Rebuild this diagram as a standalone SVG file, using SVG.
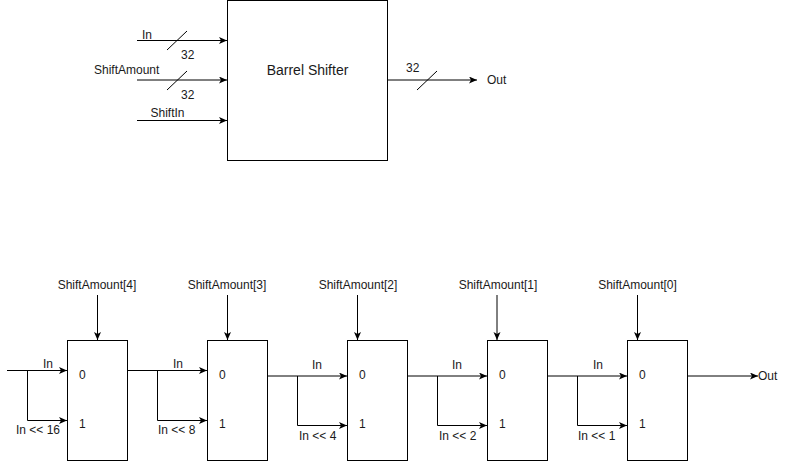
<svg xmlns="http://www.w3.org/2000/svg" width="798" height="461" viewBox="0 0 798 461">
  <style>
    .box { fill: #ffffff; stroke: #000000; stroke-width: 1; }
    .wire { fill: none; stroke: #000000; stroke-width: 1; }
    .arrow { marker-end: url(#head); }
    text { font-family: "Liberation Sans", Arial, Helvetica, sans-serif; font-size: 12px; fill: #1a1a1a; }
    .title { font-size: 14px; text-anchor: middle; }
    .mid { text-anchor: middle; }
  </style>
  <defs>
    <marker id="head" markerUnits="userSpaceOnUse" markerWidth="10" markerHeight="8" refX="8" refY="3.5" orient="auto">
      <path d="M0,0 L8,3.5 L0,7 L2,3.5 z" fill="#000000"/>
    </marker>
  </defs>

  <rect width="798" height="461" fill="#ffffff"/>

  <!-- top-level block -->
  <g id="barrel-shifter">
    <rect class="box" x="227.5" y="0.5" width="160" height="160"/>
    <text class="title" x="307.5" y="75">Barrel Shifter</text>
  </g>

  <!-- mux stages -->
  <g id="mux4">
    <rect class="box" x="67.5" y="340.5" width="60" height="120"/>
    <text x="79" y="379">0</text>
    <text x="79" y="428">1</text>
  </g>
  <g id="mux3">
    <rect class="box" x="207.5" y="340.5" width="60" height="120"/>
    <text x="219" y="379">0</text>
    <text x="219" y="428">1</text>
  </g>
  <g id="mux2">
    <rect class="box" x="347.5" y="340.5" width="60" height="120"/>
    <text x="359" y="379">0</text>
    <text x="359" y="428">1</text>
  </g>
  <g id="mux1">
    <rect class="box" x="487.5" y="340.5" width="60" height="120"/>
    <text x="499" y="379">0</text>
    <text x="499" y="428">1</text>
  </g>
  <g id="mux0">
    <rect class="box" x="627.5" y="340.5" width="60" height="120"/>
    <text x="639" y="379">0</text>
    <text x="639" y="428">1</text>
  </g>

  <g id="connectors">
    <!-- top block inputs -->
    <line class="wire arrow" x1="137" y1="40.5" x2="227" y2="40.5"/>
    <line class="wire" x1="167" y1="50" x2="187" y2="31"/>
    <line class="wire arrow" x1="137" y1="80" x2="227" y2="80"/>
    <line class="wire" x1="167" y1="90" x2="187" y2="71"/>
    <line class="wire arrow" x1="137" y1="120.5" x2="227" y2="120.5"/>
    <!-- top block output -->
    <line class="wire arrow" x1="388" y1="80" x2="477" y2="80"/>
    <line class="wire" x1="417" y1="90" x2="437" y2="71"/>

    <!-- select lines -->
    <line class="wire arrow" x1="97.5" y1="295" x2="97.5" y2="340"/>
    <line class="wire arrow" x1="227.5" y1="295" x2="227.5" y2="340"/>
    <line class="wire arrow" x1="357.5" y1="295" x2="357.5" y2="340"/>
    <line class="wire arrow" x1="497" y1="295" x2="497" y2="340"/>
    <line class="wire arrow" x1="637.5" y1="295" x2="637.5" y2="340"/>

    <!-- stage 4 inputs -->
    <line class="wire arrow" x1="7" y1="370.5" x2="67" y2="370.5"/>
    <polyline class="wire arrow" points="27.5,370.5 27.5,420.5 67,420.5"/>
    <!-- stage 3 inputs -->
    <line class="wire arrow" x1="128" y1="370.5" x2="207" y2="370.5"/>
    <polyline class="wire arrow" points="157.5,370.5 157.5,420.5 207,420.5"/>
    <!-- stage 2 inputs -->
    <line class="wire arrow" x1="268" y1="376" x2="347" y2="376"/>
    <polyline class="wire arrow" points="297.5,376 297.5,425.5 347,425.5"/>
    <!-- stage 1 inputs -->
    <line class="wire arrow" x1="408" y1="376" x2="487" y2="376"/>
    <polyline class="wire arrow" points="437.5,376 437.5,425.5 487,425.5"/>
    <!-- stage 0 inputs -->
    <line class="wire arrow" x1="548" y1="376" x2="627" y2="376"/>
    <polyline class="wire arrow" points="577.5,376 577.5,425.5 627,425.5"/>
    <!-- final output -->
    <line class="wire arrow" x1="688" y1="376" x2="758" y2="376"/>
  </g>

  <g id="labels">
    <text x="142" y="38.5">In</text>
    <text x="181" y="58.5">32</text>
    <text x="94" y="74">ShiftAmount</text>
    <text x="181" y="98.5">32</text>
    <text x="150.5" y="117">ShiftIn</text>
    <text x="406" y="72">32</text>
    <text x="487" y="83.5">Out</text>

    <text class="mid" x="97" y="288.5">ShiftAmount[4]</text>
    <text class="mid" x="227" y="288.5">ShiftAmount[3]</text>
    <text class="mid" x="358" y="288.5">ShiftAmount[2]</text>
    <text class="mid" x="498" y="288.5">ShiftAmount[1]</text>
    <text class="mid" x="637.5" y="288.5">ShiftAmount[0]</text>

    <text x="43" y="368">In</text>
    <text x="16" y="433.5">In &lt;&lt; 16</text>
    <text x="173" y="368">In</text>
    <text x="158" y="433.5">In &lt;&lt; 8</text>
    <text x="312" y="369">In</text>
    <text x="299" y="440">In &lt;&lt; 4</text>
    <text x="452" y="369">In</text>
    <text x="439" y="440">In &lt;&lt; 2</text>
    <text x="593" y="369">In</text>
    <text x="578" y="440">In &lt;&lt; 1</text>

    <text x="758" y="380">Out</text>
  </g>
</svg>
